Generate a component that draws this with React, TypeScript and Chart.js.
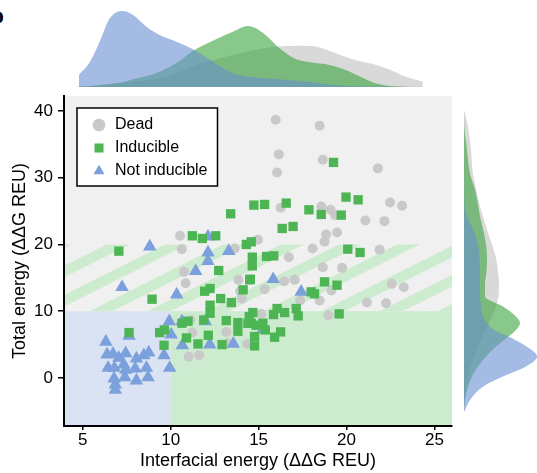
import React, { useEffect, useRef } from 'react';
import { Chart, registerables } from 'chart.js';

Chart.register(...registerables);

// ---------- axes ----------
const X_TICKS = [5, 10, 15, 20, 25];
const Y_TICKS = [0, 10, 20, 30, 40];
const X_MIN = 3.93;
const X_MAX = 26;
const Y_MIN = -7.2;
const Y_MAX = 42.25;

// ---------- region thresholds ----------
const INTERFACE_CUT = 10;
const TOTAL_LOW = 10;
const TOTAL_HIGH = 20;

// ---------- scatter data [interfacial, total] ----------
const DEAD: [number, number][] = [
  [15.97, 38.7], [18.47, 37.8], [16.15, 33.5], [16.05, 30.8], [18.65, 32.7], [21.78, 31.4],
  [16.25, 25.5], [18.56, 25.7], [19.09, 25.2], [19.35, 24.4], [21.07, 23.6], [22.16, 23.5], [22.48, 26.3], [23.16, 25.8],
  [18.84, 21.5], [19.46, 21.8], [18.75, 20.4], [18.07, 19.4], [21.88, 19.2], [14.96, 20.7], [13.64, 19.4],
  [10.53, 21.3], [10.63, 19.3], [10.76, 15.9], [10.85, 14.2],
  [16.72, 18.1], [18.65, 16.6], [19.75, 16.5], [16.46, 14.5], [17.05, 14.7], [15.34, 13.3], [19.14, 13.1], [22.57, 14.1], [23.26, 13.6],
  [17.36, 11.6], [18.47, 11.6], [21.16, 11.3], [22.25, 11.2], [18.96, 9.4], [15.15, 9.6],
  [13.85, 14.7], [13.95, 13.0], [14.05, 11.9],
  [11.12, 8.7], [11.23, 6.8], [11.02, 3.2], [11.62, 3.4], [13.16, 6.9], [13.26, 5.2], [14.35, 5.1],
];

const INDUCIBLE: [number, number][] = [
  [7.05, 19.0], [11.23, 21.3], [11.8, 20.9], [12.56, 21.3], [12.73, 16.1], [13.41, 24.6], [14.73, 25.9], [15.34, 26.0],
  [16.57, 26.2], [17.86, 25.2], [18.56, 24.5], [19.7, 24.4], [19.97, 27.1], [20.66, 26.7], [19.26, 32.3],
  [16.34, 22.4], [16.96, 22.7], [14.3, 20.0], [14.58, 20.4], [14.64, 18.1], [14.64, 16.8], [14.53, 14.8], [15.45, 18.2],
  [15.86, 18.3], [20.07, 19.3], [20.77, 18.8],
  [18.75, 14.4], [19.46, 13.9], [17.99, 12.9], [18.18, 12.6], [19.58, 9.6],
  [8.94, 11.8], [11.93, 13.0], [12.24, 13.4], [12.24, 10.9], [12.24, 9.7], [12.84, 11.9], [13.45, 11.3], [14.12, 13.2], [14.49, 14.7],
  [7.63, 6.8], [9.37, 6.8], [9.64, 7.2], [9.62, 4.9], [10.64, 8.2], [10.98, 8.5], [10.9, 6.0], [11.55, 5.1], [11.88, 8.7],
  [12.14, 6.4], [13.16, 8.6], [12.92, 5.0],
  [13.82, 8.3], [13.82, 7.0], [14.47, 9.2], [14.67, 9.8], [14.77, 6.2], [14.77, 4.8], [14.39, 8.2], [14.58, 8.2], [14.86, 7.9],
  [15.24, 8.2], [15.38, 7.2], [15.91, 6.1], [16.25, 6.9], [15.85, 9.5], [16.05, 10.4], [16.48, 9.8], [17.14, 10.4], [17.25, 9.3],
];

const NOT_INDUCIBLE: [number, number][] = [
  [8.81, 19.7], [12.12, 21.2], [12.12, 18.8], [12.12, 17.5], [11.42, 16.0], [13.3, 19.0], [7.23, 13.6], [10.34, 12.5],
  [15.83, 14.8], [17.42, 12.9],
  [6.31, 5.4], [6.38, 3.5], [6.72, 3.6], [7.05, 3.0], [7.44, 3.7], [8.05, 2.9], [8.47, 3.4], [8.75, 3.8], [6.44, 1.5],
  [6.8, 1.5], [7.33, 2.0], [7.44, 1.2], [7.98, 1.4], [8.62, 1.5], [8.71, 0.1], [6.78, -0.1], [7.39, 0.1], [8.05, -0.4],
  [6.85, -1.0], [6.85, -1.8],
  [7.63, 6.3], [9.62, 3.4], [9.94, 1.5], [9.92, 8.5], [10.64, 8.5], [10.02, 6.5], [10.66, 4.9], [11.97, 8.5], [12.22, 5.0],
  [13.56, 5.1], [15.24, 7.2],
];

// ---------- marginal densities (relative units) ----------
const KDE_TOP_X = [4.77, 5.4, 6.0, 6.53, 7.29, 7.86, 8.62, 9.38, 10.32, 11.27, 12.4, 13.54, 14.39, 15.24, 16.19, 17.14, 18.04, 18.9, 19.8, 20.7, 21.6, 22.5, 23.4, 24.34];
const KDE_TOP_NOT = [12, 25, 47, 68.7, 76, 72, 60.3, 52, 45.3, 37.7, 25.3, 13.7, 10.5, 9, 7.7, 6.2, 4.8, 2.8, 1.5, 0.8, 0.4, 0.2, 0.1, 0];
const KDE_TOP_IND = [0.5, 1, 2, 3, 5, 7.7, 11, 15.3, 24, 36.3, 46.3, 55.3, 61, 54.3, 38.7, 27.7, 24.5, 22.5, 18, 11, 4, 1, 0.3, 0];
const KDE_TOP_DEAD = [0.5, 1, 2, 3, 4, 5, 7, 9, 14, 21, 27, 32, 35.5, 38.5, 40.5, 41.3, 41, 37, 31, 26, 22.5, 17, 10, 5.3];
const KDE_TOP_MAX = 87;

const KDE_RIGHT_Y = [-5, -3.3, -1.3, 0.2, 1.7, 3.2, 4.7, 6.4, 7.2, 8.2, 9.2, 10.7, 12.2, 14, 16, 18, 20, 22, 24.2, 26, 28.2, 30.6, 34.2, 37.6, 40];
const KDE_RIGHT_NOT = [0.5, 6, 19, 39, 62, 73, 62.7, 42, 30, 23, 19, 17, 16, 16, 16, 15.5, 14, 10, 3, 0.5, 0.2, 0.1, 0, 0, 0];
const KDE_RIGHT_IND = [0, 1, 4, 8, 14, 22, 32, 46, 52, 56, 52, 39, 21, 21, 22.5, 23, 22, 19.5, 16, 14, 11, 6, 3, 0.3, 0];
const KDE_RIGHT_DEAD = [0, 0.5, 2, 4, 6, 10, 14, 19, 22, 25, 28, 32, 34.5, 35, 34, 32, 28, 23.5, 19, 15.5, 12.3, 9, 7, 4, 0.5];
const KDE_RIGHT_MAX = 73;

// ---------- styles ----------
const FONT = "'Liberation Sans', Arial, Helvetica, sans-serif";
const DEAD_COLOR = '#c9c9c9';
const IND_COLOR = '#4db553';
const NOT_COLOR = '#7ba0dc';
const DEAD_KDE = 'rgba(192,192,192,0.6)';
const IND_KDE = 'rgba(57,163,60,0.6)';
const NOT_KDE = 'rgba(103,143,208,0.6)';
const BG_GRAY = '#f0f0f0';
const BG_BLUE = '#dae3f3';
const BG_GREEN = '#cdebcf';
const STRIPE = '#cdebcf';
const STRIPE_SLOPE = 1.318; // data-y per data-x
const STRIPE_WIDTH = 1.31;
const STRIPE_PERIOD = 3.3;
const STRIPE_PHASE = 6.36;

const bgPlugin = {
  id: 'regions',
  afterLayout(chart: any) {
    const lg = chart.legend;
    if (!lg) return;
    const w = lg.width;
    const h = lg.height;
    lg.left = chart.chartArea.left + 20;
    lg.top = chart.chartArea.top + 14;
    lg.right = lg.left + w;
    lg.bottom = lg.top + h;
  },
  beforeDraw(chart: any) {
    const { ctx, chartArea: a, scales } = chart;
    const xs = scales.x;
    const ys = scales.y;
    const px = (v: number) => xs.getPixelForValue(v);
    const py = (v: number) => ys.getPixelForValue(v);
    ctx.save();
    ctx.beginPath();
    ctx.rect(a.left, a.top, a.right - a.left, a.bottom - a.top);
    ctx.clip();
    ctx.fillStyle = BG_GRAY;
    ctx.fillRect(a.left, a.top, a.right - a.left, a.bottom - a.top);
    const yl = py(TOTAL_LOW);
    const xc = px(INTERFACE_CUT);
    ctx.fillStyle = BG_BLUE;
    ctx.fillRect(a.left, yl, xc - a.left, a.bottom - yl);
    ctx.fillStyle = BG_GREEN;
    ctx.fillRect(xc, yl, a.right - xc, a.bottom - yl);
    // stripes in the TOTAL_LOW..TOTAL_HIGH band
    const run = (TOTAL_HIGH - TOTAL_LOW) / STRIPE_SLOPE;
    ctx.fillStyle = STRIPE;
    for (let k = -6; k < 12; k++) {
      const xt = STRIPE_PHASE + k * STRIPE_PERIOD;
      const xb = xt - run;
      ctx.beginPath();
      ctx.moveTo(px(xb), py(TOTAL_LOW));
      ctx.lineTo(px(xb + STRIPE_WIDTH), py(TOTAL_LOW));
      ctx.lineTo(px(xt + STRIPE_WIDTH), py(TOTAL_HIGH));
      ctx.lineTo(px(xt), py(TOTAL_HIGH));
      ctx.closePath();
      ctx.fill();
    }
    ctx.restore();
    // legend frame
    const lg = chart.legend;
    if (lg && lg.legendHitBoxes && lg.legendHitBoxes.length) {
      const hb = lg.legendHitBoxes;
      const l = Math.min(...hb.map((b: any) => b.left)) - 14;
      const t = Math.min(...hb.map((b: any) => b.top)) - 9;
      const r = Math.max(...hb.map((b: any) => b.left + b.width)) + 10;
      const bt = Math.max(...hb.map((b: any) => b.top + b.height)) + 7;
      ctx.save();
      ctx.fillStyle = '#ffffff';
      ctx.fillRect(l, t, r - l, bt - t);
      ctx.strokeStyle = '#000';
      ctx.lineWidth = 1.5;
      ctx.strokeRect(l, t, r - l, bt - t);
      ctx.restore();
    }
  },
};

const toXY = (arr: [number, number][]) => arr.map(([x, y]) => ({ x, y }));

export default function App() {
  const topRef = useRef<HTMLCanvasElement>(null);
  const mainRef = useRef<HTMLCanvasElement>(null);
  const rightRef = useRef<HTMLCanvasElement>(null);

  useEffect(() => {
    const kdeDs = (label: string, xs: number[], vals: number[], color: string, order: number, vertical: boolean) => ({
      label,
      data: xs.map((v, i) => (vertical ? { x: vals[i], y: v } : { x: v, y: vals[i] })),
      backgroundColor: color,
      borderColor: 'rgba(0,0,0,0)',
      borderWidth: 0,
      pointRadius: 0,
      fill: 'origin',
      cubicInterpolationMode: 'monotone',
      order,
    });

    const top = new Chart(topRef.current!, {
      type: 'line',
      data: {
        datasets: [
          kdeDs('Not inducible', KDE_TOP_X, KDE_TOP_NOT, NOT_KDE, 1, false),
          kdeDs('Inducible', KDE_TOP_X, KDE_TOP_IND, IND_KDE, 2, false),
          kdeDs('Dead', KDE_TOP_X, KDE_TOP_DEAD, DEAD_KDE, 3, false),
        ] as any,
      },
      options: {
        animation: false,
        responsive: false,
        events: [],
        layout: { padding: 0 },
        plugins: { legend: { display: false }, tooltip: { enabled: false } },
        scales: {
          x: { type: 'linear', min: X_MIN, max: X_MAX, display: false },
          y: { type: 'linear', min: 0, max: KDE_TOP_MAX, display: false },
        },
      } as any,
    });

    const right = new Chart(rightRef.current!, {
      type: 'line',
      data: {
        datasets: [
          kdeDs('Not inducible', KDE_RIGHT_Y, KDE_RIGHT_NOT, NOT_KDE, 1, true),
          kdeDs('Inducible', KDE_RIGHT_Y, KDE_RIGHT_IND, IND_KDE, 2, true),
          kdeDs('Dead', KDE_RIGHT_Y, KDE_RIGHT_DEAD, DEAD_KDE, 3, true),
        ] as any,
      },
      options: {
        animation: false,
        responsive: false,
        events: [],
        indexAxis: 'y',
        layout: { padding: 0 },
        plugins: { legend: { display: false }, tooltip: { enabled: false } },
        scales: {
          x: { type: 'linear', min: 0, max: KDE_RIGHT_MAX, display: false },
          y: { type: 'linear', min: Y_MIN, max: Y_MAX, display: false },
        },
      } as any,
    });

    const main = new Chart(mainRef.current!, {
      type: 'scatter',
      data: {
        datasets: [
          { label: 'Dead', data: toXY(DEAD), pointStyle: 'circle', pointRadius: 5, backgroundColor: DEAD_COLOR, borderWidth: 0, order: 3 },
          { label: 'Inducible', data: toXY(INDUCIBLE), pointStyle: 'rect', pointRadius: 6.6, backgroundColor: IND_COLOR, borderWidth: 0, order: 1 },
          { label: 'Not inducible', data: toXY(NOT_INDUCIBLE), pointStyle: 'triangle', pointRadius: 7.8, backgroundColor: NOT_COLOR, borderWidth: 0, order: 2 },
        ] as any,
      },
      options: {
        animation: false,
        responsive: false,
        events: [],
        layout: { padding: { top: 8, right: 10, left: 0, bottom: 0 } },
        plugins: {
          tooltip: { enabled: false },
          legend: {
            position: 'chartArea',
            align: 'start',
            labels: {
              usePointStyle: true,
              boxHeight: 9,
              padding: 7,
              color: '#000',
              font: { family: FONT, size: 16 },
              sort: (a: any, b: any) => a.datasetIndex - b.datasetIndex,
            },
          },
        },
        scales: {
          x: {
            type: 'linear',
            min: X_MIN,
            max: X_MAX,
            afterBuildTicks: (s: any) => { s.ticks = X_TICKS.map((v) => ({ value: v })); },
            afterFit: (s: any) => { s.height = 47; s.paddingLeft = 0; s.paddingRight = 0; },
            ticks: { font: { family: FONT, size: 17 }, color: '#000', padding: 0, maxRotation: 0, autoSkip: false },
            grid: { drawOnChartArea: false, drawTicks: true, tickLength: 4, color: '#000', lineWidth: 1.5 },
            border: { display: true, color: '#000', width: 2 },
            title: { display: true, text: 'Interfacial energy (ΔΔG REU)', color: '#000', font: { family: FONT, size: 18 }, padding: { top: 0, bottom: 1 } },
          },
          y: {
            type: 'linear',
            min: Y_MIN,
            max: Y_MAX,
            afterBuildTicks: (s: any) => { s.ticks = Y_TICKS.map((v) => ({ value: v })); },
            afterFit: (s: any) => { s.width = 64; s.paddingTop = 0; s.paddingBottom = 0; },
            ticks: { font: { family: FONT, size: 17 }, color: '#000', padding: 5, autoSkip: false },
            grid: { drawOnChartArea: false, drawTicks: true, tickLength: 6, color: '#000', lineWidth: 1.5 },
            border: { display: true, color: '#000', width: 2 },
            title: { display: true, text: 'Total energy (ΔΔG REU)', color: '#000', font: { family: FONT, size: 18 }, padding: { top: 9, bottom: 0 } },
          },
        },
      } as any,
      plugins: [bgPlugin],
    });

    return () => {
      top.destroy();
      right.destroy();
      main.destroy();
    };
  }, []);

  return (
    <div style={{ position: 'absolute', left: 0, top: 0, width: 537, height: 473, overflow: 'hidden', background: '#fff' }}>
      <span style={{ position: 'absolute', left: -9, top: 5, font: `bold 21px ${FONT}`, lineHeight: '21px', color: '#000' }}>b</span>
      <canvas ref={topRef} width={388} height={87} style={{ position: 'absolute', left: 64, top: 0 }} />
      <canvas ref={mainRef} width={462} height={385} style={{ position: 'absolute', left: 0, top: 88 }} />
      <canvas ref={rightRef} width={73} height={330} style={{ position: 'absolute', left: 464, top: 96 }} />
    </div>
  );
}
